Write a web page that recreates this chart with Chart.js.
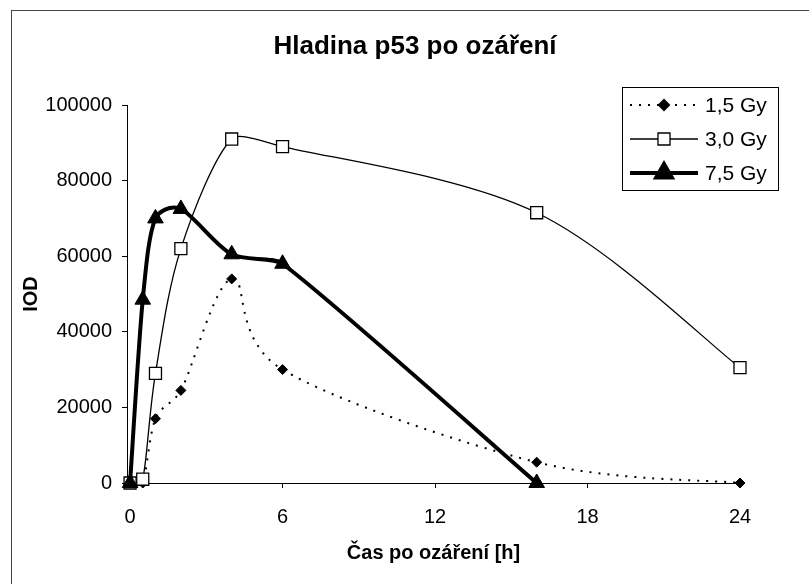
<!DOCTYPE html>
<html>
<head>
<meta charset="utf-8">
<title>Hladina p53 po ozáření</title>
<script src="https://cdn.jsdelivr.net/npm/chart.js@4.4.1/dist/chart.umd.min.js"></script>
<style>
  html, body { margin: 0; padding: 0; background: #fff; }
  #wrap { width: 809px; height: 584px; }
</style>
</head>
<body>
<div id="wrap"><canvas id="chart" width="809" height="584"></canvas></div>
<script>
// data
const times = [0, 0.5, 1, 2, 4, 6, 16, 24];
const seriesNames = ['1,5 Gy', '3,0 Gy', '7,5 Gy'];
const gy15 = [0, 0, 17000, 24500, 54000, 30000, 5500, 0];
const gy30 = [0, 1000, 29000, 62000, 91000, 89000, 71500, 30500];
const gy75 = [0, 48500, 70000, 72500, 60500, 58000, 0];
const xTicks = [0, 6, 12, 18, 24];
const yTicks = [0, 20000, 40000, 60000, 80000, 100000];
const chartTitle = 'Hladina p53 po ozáření';

const FONT = 'Arial, "Liberation Sans", sans-serif';
const Y_STRETCH = 4; // vertical weight used when limiting the smoothing

function toPoints(values) {
  return values.map((v, i) => ({ x: times[i], y: v }));
}

function dist(a, b) {
  return Math.hypot(b.x - a.x, (b.y - a.y) * Y_STRETCH);
}

// Excel-like smoothing: control points at 1/6 of the neighbour chord,
// limited to half of the adjacent segment
const excelSmooth = {
  id: 'excelSmooth',
  beforeDatasetsDraw(chart) {
    chart.data.datasets.forEach((ds, di) => {
      const meta = chart.getDatasetMeta(di);
      meta.dataset.updateControlPoints(chart.chartArea, 'x');
      const pts = meta.data;
      const n = pts.length;
      for (let i = 0; i < n; i++) {
        const p = pts[i];
        const prev = pts[Math.max(i - 1, 0)];
        const next = pts[Math.min(i + 1, n - 1)];
        const tx = next.x - prev.x, ty = next.y - prev.y;
        const tl = dist(prev, next) || 1;
        const fIn = Math.min(1 / 6, dist(prev, p) / 2 / tl);
        const fOut = Math.min(1 / 6, dist(p, next) / 2 / tl);
        p.cp1x = p.x - tx * fIn;
        p.cp1y = p.y - ty * fIn;
        p.cp2x = p.x + tx * fOut;
        p.cp2y = p.y + ty * fOut;
      }
    });
  }
};

// white background, outer frame and the title
const frame = {
  id: 'frame',
  beforeDraw(chart) {
    const ctx = chart.ctx;
    ctx.save();
    ctx.fillStyle = '#fff';
    ctx.fillRect(0, 0, chart.width, chart.height);
    ctx.strokeStyle = '#444';
    ctx.lineWidth = 1;
    ctx.strokeRect(11.5, 10.5, chart.width + 20, chart.height + 20);
    ctx.fillStyle = '#000';
    ctx.font = 'bold 26px ' + FONT;
    ctx.textAlign = 'center';
    ctx.textBaseline = 'alphabetic';
    ctx.fillText(chartTitle, 415, 54);
    ctx.restore();
  }
};

// boxed legend inside the plot, top right
const boxLegend = {
  id: 'boxLegend',
  afterDraw(chart) {
    const ctx = chart.ctx;
    const x0 = 622, y0 = 87, w = 156, h = 103;
    ctx.save();
    ctx.fillStyle = '#fff';
    ctx.fillRect(x0, y0, w, h);
    ctx.strokeStyle = '#000';
    ctx.lineWidth = 1;
    ctx.strokeRect(x0 + 0.5, y0 + 0.5, w, h);
    chart.data.datasets.forEach((ds, i) => {
      const y = y0 + 18 + i * 34;
      ctx.beginPath();
      ctx.setLineDash(ds.borderDash || []);
      ctx.lineWidth = ds.borderWidth;
      ctx.strokeStyle = ds.borderColor;
      ctx.moveTo(x0 + 8, y);
      ctx.lineTo(x0 + 76, y);
      ctx.stroke();
      ctx.setLineDash([]);
      ctx.fillStyle = ds.pointBackgroundColor;
      ctx.strokeStyle = ds.pointBorderColor;
      Chart.helpers.drawPoint(ctx, {
        pointStyle: ds.pointStyle,
        radius: ds.pointRadius,
        borderWidth: ds.pointBorderWidth,
        rotation: 0
      }, x0 + 42, y);
      ctx.fillStyle = '#000';
      ctx.font = '21px ' + FONT;
      ctx.textAlign = 'left';
      ctx.textBaseline = 'middle';
      ctx.fillText(ds.label, x0 + 83, y + 1);
    });
    ctx.restore();
  }
};

new Chart(document.getElementById('chart'), {
  type: 'line',
  data: {
    datasets: [
      {
        label: seriesNames[0],
        data: toPoints(gy15),
        borderColor: '#000',
        borderWidth: 2,
        borderDash: [2, 7],
        pointStyle: 'rectRot',
        pointRadius: 5,
        pointBackgroundColor: '#000',
        pointBorderColor: '#000',
        pointBorderWidth: 1,
        order: 2
      },
      {
        label: seriesNames[1],
        data: toPoints(gy30),
        borderColor: '#000',
        borderWidth: 1.3,
        pointStyle: 'rect',
        pointRadius: 8.5,
        pointBackgroundColor: '#fff',
        pointBorderColor: '#000',
        pointBorderWidth: 1.3,
        order: 1
      },
      {
        label: seriesNames[2],
        data: toPoints(gy75),
        borderColor: '#000',
        borderWidth: 4,
        pointStyle: 'triangle',
        pointRadius: 9,
        pointBackgroundColor: '#000',
        pointBorderColor: '#000',
        pointBorderWidth: 1,
        order: 0
      }
    ]
  },
  options: {
    responsive: false,
    animation: false,
    devicePixelRatio: 1,
    layout: { padding: { left: 0, right: 69, top: 105, bottom: 0 } },
    elements: { line: { tension: 0.4, fill: false } },
    datasets: { line: { clip: false } },
    plugins: {
      legend: { display: false },
      tooltip: { enabled: false },
      title: { display: false }
    },
    scales: {
      x: {
        type: 'linear',
        min: -0.12,
        max: 24,
        afterBuildTicks: s => { s.ticks = xTicks.map(v => ({ value: v })); },
        afterFit: s => { s.height = 101; },
        border: { color: '#000', width: 1 },
        grid: { drawOnChartArea: false, drawTicks: true, tickLength: 5, color: '#000' },
        ticks: {
          color: '#000',
          font: { family: FONT, size: 20 },
          padding: 17,
          maxRotation: 0
        },
        title: {
          display: true,
          text: 'Čas po ozáření [h]',
          color: '#000',
          font: { family: FONT, size: 20, weight: 'bold' },
          padding: { top: 0, bottom: 19 }
        }
      },
      y: {
        min: 0,
        max: 100000,
        afterBuildTicks: s => { s.ticks = yTicks.map(v => ({ value: v })); },
        afterFit: s => { s.width = 127; },
        border: { color: '#000', width: 1 },
        grid: { drawOnChartArea: false, drawTicks: true, tickLength: 5, color: '#000' },
        ticks: {
          color: '#000',
          font: { family: FONT, size: 20 },
          padding: 10,
          callback: v => String(v)
        },
        title: {
          display: true,
          text: 'IOD',
          color: '#000',
          font: { family: FONT, size: 20, weight: 'bold' },
          padding: { top: 19, bottom: 0 }
        }
      }
    }
  },
  plugins: [frame, excelSmooth, boxLegend]
});
</script>
</body>
</html>
